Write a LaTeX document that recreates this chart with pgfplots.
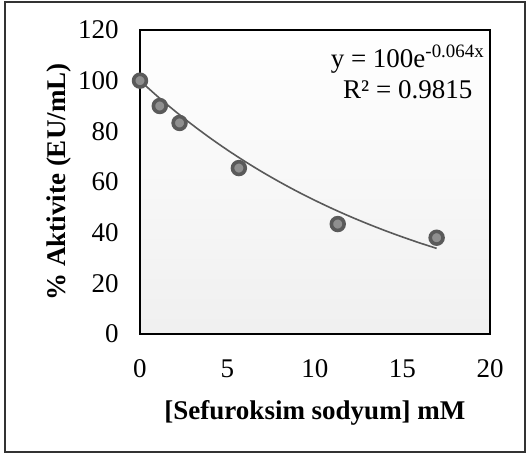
\documentclass[border=0pt]{standalone}
\usepackage{pgfplots}
\pgfplotsset{compat=1.18}
\usepackage{fontspec}
\setmainfont{Liberation Serif}
\definecolor{markfill}{HTML}{8F8F8F}
\definecolor{markedge}{HTML}{5A5A5A}
\definecolor{trend}{HTML}{595959}
\begin{document}
\fontsize{13.5pt}{16pt}\selectfont
\begin{tikzpicture}
  % white page and outer frame
  \path[fill=white] (-70pt,-60pt) rectangle (195pt,167pt);
  \draw[line width=0.8pt, black!80] (-67.5pt,-59pt) rectangle (192.5pt,166pt);
  \begin{axis}[
    at={(0,0)}, anchor=south west,
    scale only axis, width=175pt, height=152pt,
    xmin=0, xmax=20, ymin=0, ymax=120,
    xtick={0,5,10,15,20}, ytick={0,20,40,60,80,100,120},
    major tick length=0pt,
    axis line style={line width=0.8pt, black},
    axis background/.style={shade, top color=white, bottom color=black!6},
    /pgf/number format/assume math mode=true,
    ticklabel style={font=\fontsize{13.5pt}{16pt}\selectfont},
    xticklabel style={yshift=-8pt},
    yticklabel style={xshift=-6pt},
    xlabel={\textbf{[Sefuroksim sodyum] mM}},
    ylabel={\textbf{\% Aktivite (EU/mL)}},
    label style={font=\fontsize{13.5pt}{16pt}\selectfont},
    xlabel style={yshift=-2pt},
    ylabel style={yshift=-6pt},
    clip=false,
  ]
    % exponential trend line y = 100 e^{-0.064x}
    \addplot[trend, line width=0.8pt, smooth] coordinates {
      (0,100) (1,93.80) (2,87.99) (3,82.53) (4,77.41) (5,72.61)
      (6,68.11) (7,63.89) (8,59.93) (9,56.21) (10,52.73) (11,49.46)
      (12,46.39) (13,43.52) (14,40.82) (15,38.29) (16,35.91) (16.95,33.80)
    };
    % measured points
    \addplot[only marks, mark=*, mark size=3.2pt,
      mark options={fill=markfill, draw=markedge, line width=1.8pt}]
      coordinates {
        (0,100) (1.13,90) (2.26,83.3) (5.65,65.5) (11.3,43.4) (16.95,38)
      };
    \node at (axis cs:15.3,108.5) {y = 100e\textsuperscript{-0.064x}};
    \node at (axis cs:15.3,96.3) {R² = 0.9815};
  \end{axis}
\end{tikzpicture}
\end{document}
